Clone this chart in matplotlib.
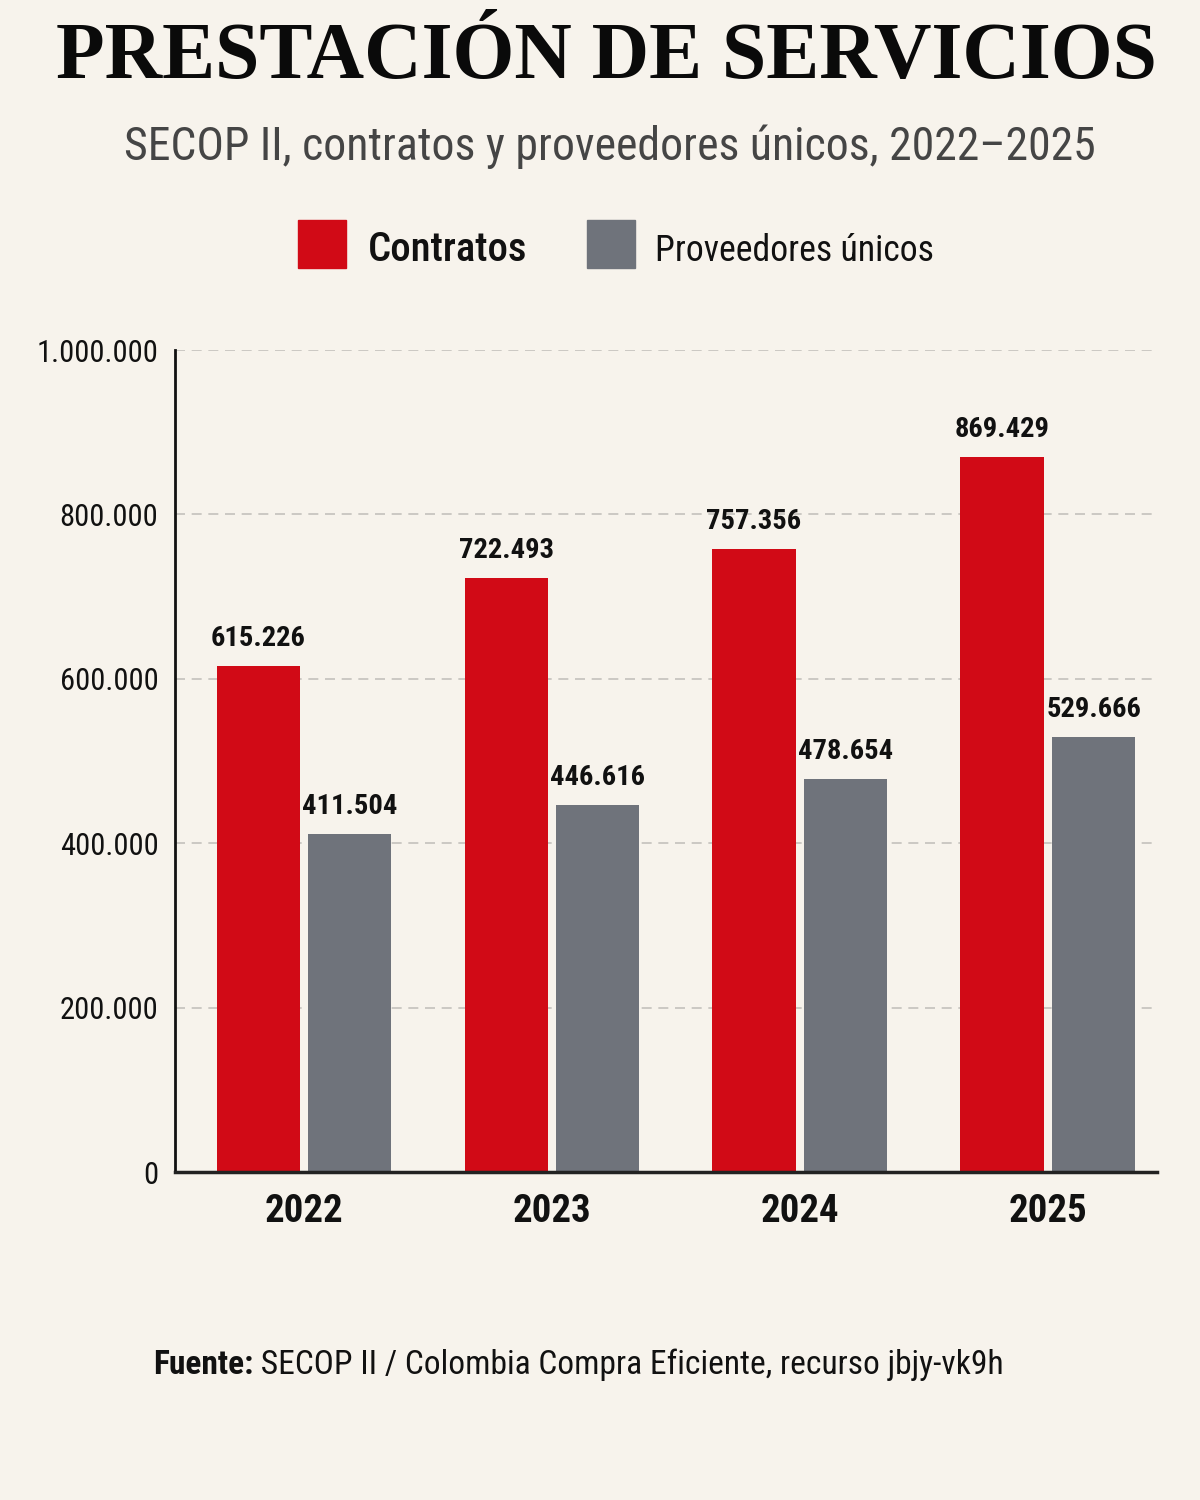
import matplotlib
matplotlib.use("Agg")
import matplotlib.pyplot as plt
from matplotlib import font_manager as fm
from matplotlib.patches import Rectangle
from matplotlib.ticker import FuncFormatter
import numpy as np

# ---- data ----
years = ["2022", "2023", "2024", "2025"]
contratos = [615226, 722493, 757356, 869429]
proveedores = [411504, 446616, 478654, 529666]
yticks = [0, 200000, 400000, 600000, 800000, 1000000]
series_names = ["Contratos", "Proveedores únicos"]
title = "PRESTACIÓN DE SERVICIOS"
subtitle = "SECOP II, contratos y proveedores únicos, 2022–2025"
source_bold = "Fuente:"
source_rest = " SECOP II / Colombia Compra Eficiente, recurso jbjy-vk9h"

# ---- fonts ----
entries = fm.fontManager.ttflist
names = {f.name for f in entries}

def narrow_font():
    for c in ["Roboto Condensed", "Liberation Sans Narrow", "Open Sans Condensed"]:
        if c in names:
            return dict(family=c)
    if any(f.name == "DejaVu Sans" and f.stretch == "condensed" for f in entries):
        return dict(family="DejaVu Sans", stretch="condensed")
    return dict(family="DejaVu Sans")

def serif_font():
    if "Liberation Serif" in names:
        return dict(family="Liberation Serif")
    return dict(family="DejaVu Serif")

NF = narrow_font()
SF = serif_font()

BG = "#F7F3EC"
RED = "#D10A16"
GRAY = "#6F737B"
INK = "#111111"

W, H = 1200, 1500
fig = plt.figure(figsize=(12, 15), dpi=100, facecolor=BG)
renderer = fig.canvas.get_renderer()

def fit(t, width_px):
    w = t.get_window_extent(renderer).width
    t.set_fontsize(t.get_fontsize() * width_px / w)

# ---- axes ----
ax = fig.add_axes([175 / W, 1 - 1172 / H, (1157 - 175) / W, (1172 - 350) / H])
ax.set_facecolor(BG)
x = np.arange(len(years))
off = 0.185
bw = 0.335
b1 = ax.bar(x - off, contratos, width=bw, color=RED, zorder=3)
b2 = ax.bar(x + off, proveedores, width=bw, color=GRAY, zorder=3)

ax.set_xlim(-0.52, 3.44)
ax.set_ylim(0, 1000000)
ax.set_yticks(yticks)
ax.yaxis.set_major_formatter(FuncFormatter(lambda v, p: f"{int(v):,}".replace(",", ".")))
ax.set_xticks(x)
ax.set_xticklabels(years)

for s in ["top", "right"]:
    ax.spines[s].set_visible(False)
ax.spines["left"].set_linewidth(2)
ax.spines["left"].set_color(INK)
ax.spines["bottom"].set_linewidth(2.5)
ax.spines["bottom"].set_color("#222222")
ax.spines["bottom"].set_zorder(4)

ax.tick_params(axis="y", length=0, pad=12, labelsize=22, labelcolor=INK)
ax.tick_params(axis="x", length=0, pad=15, labelsize=28, labelcolor=INK)
for lab in ax.get_yticklabels():
    lab.set(**NF)
for lab in ax.get_xticklabels():
    lab.set(**NF)
    lab.set_fontweight("bold")

ax.yaxis.grid(True, linestyle=(0, (6, 4)), color="#C4C1BC", linewidth=1.2, zorder=0)
ax.set_axisbelow(True)

for bars, vals in [(b1, contratos), (b2, proveedores)]:
    for rect, v in zip(bars, vals):
        ax.annotate(f"{v:,}".replace(",", "."),
                    (rect.get_x() + rect.get_width() / 2, v),
                    xytext=(0, 14), textcoords="offset pixels",
                    ha="center", va="bottom", fontsize=20.5, fontweight="bold",
                    color=INK, **NF)

# ---- title & subtitle ----
t = fig.text(606 / W, 1 - 78 / H, title, ha="center", va="baseline",
             fontsize=80, fontweight="bold", color="#0A0A0A", **SF)
fit(t, 1102)
st = fig.text(610 / W, 1 - 160 / H, subtitle, ha="center", va="baseline",
              fontsize=30, color="#454545", **NF)
fit(st, 971)

# ---- legend ----
fig.patches.append(Rectangle((298 / W, 1 - 268 / H), 48 / W, 48 / H,
                             transform=fig.transFigure, color=RED, figure=fig))
fig.patches.append(Rectangle((587 / W, 1 - 268 / H), 48 / W, 48 / H,
                             transform=fig.transFigure, color=GRAY, figure=fig))
l1 = fig.text(368 / W, 1 - 261 / H, series_names[0], ha="left", va="baseline",
              fontsize=32, color=INK, fontweight="medium", **NF)
fit(l1, 160)
l2 = fig.text(655 / W, 1 - 261 / H, series_names[1], ha="left", va="baseline",
              fontsize=32, color=INK, **NF)
fit(l2, 279)

# ---- source ----
s1 = fig.text(153 / W, 1 - 1374 / H, source_bold, ha="left", va="baseline",
              fontsize=26, fontweight="bold", color=INK, **NF)
s2 = fig.text(0, 1 - 1374 / H, source_rest, ha="left", va="baseline",
              fontsize=26, color=INK, **NF)

def place_source():
    e1 = s1.get_window_extent(renderer)
    s2.set_x(e1.x1 / W)

place_source()
tot = s2.get_window_extent(renderer).x1 - s1.get_window_extent(renderer).x0
scale = 851 / tot
s1.set_fontsize(s1.get_fontsize() * scale)
s2.set_fontsize(s2.get_fontsize() * scale)
place_source()

fig.savefig("out.png", dpi=100, facecolor=BG)
